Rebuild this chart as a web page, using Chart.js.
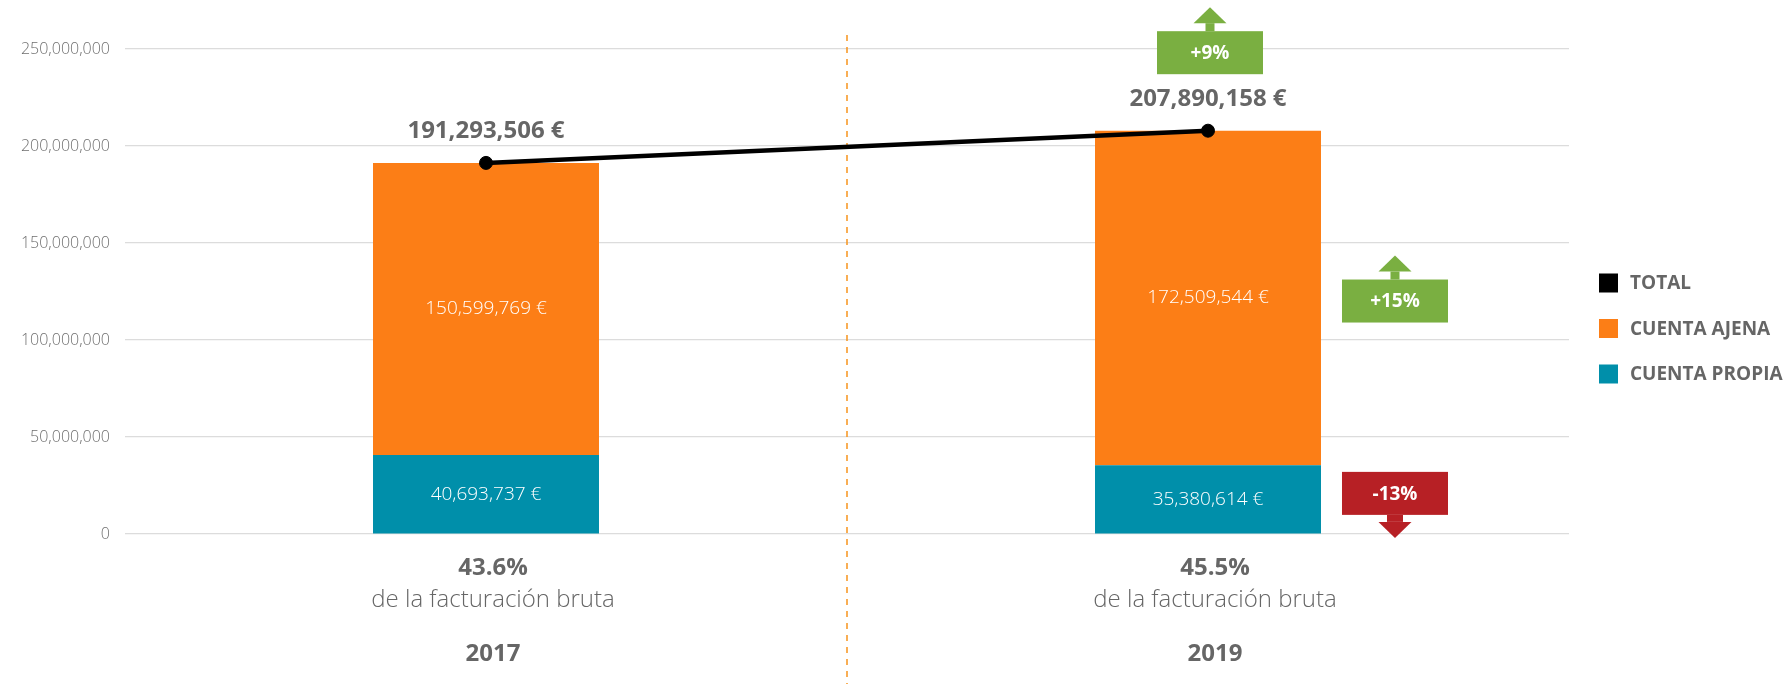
<!DOCTYPE html>
<html>
<head>
<meta charset="utf-8">
<script src="https://cdn.jsdelivr.net/npm/chart.js@4/dist/chart.umd.min.js"></script>
<style>
  html, body { margin: 0; padding: 0; background: #fff; }
  #wrap { position: relative; width: 1789px; height: 684px; }
</style>
</head>
<body>
<div id="wrap"><canvas id="chart"></canvas></div>
<script>
// --- data ---
const categories = ['2017', '2019'];
const cuentaPropia = [40693737, 35380614];
const cuentaAjena = [150599769, 172509544];
const totals = [191293506, 207890158];
const shareOfGross = ['43.6%', '45.5%'];
const shareCaption = 'de la facturación bruta';
const changeTotal = '+9%';
const changeAjena = '+15%';
const changePropia = '-13%';
const yMax = 250000000;
const yStep = 50000000;

const FONT = '"Open Sans", Lato, sans-serif';
const GREY = '#666666';
const ORANGE = '#FC7E16';
const TEAL = '#008FAA';
const GREEN = '#7AAF41';
const RED = '#B72025';

const euro = v => v.toLocaleString('en-US') + ' €';

// box with an arrow on top (up) or below (down)
function arrowBox(ctx, cx, cy, text, color, dir) {
    const w = 106, h = 43;
    const left = cx - w / 2, top = cy - h / 2;
    ctx.fillStyle = color;
    ctx.fillRect(left, top, w, h);
    if (dir === 'up') {
        ctx.fillRect(cx - 4.5, top - 8, 9, 8);
        ctx.beginPath();
        ctx.moveTo(cx - 16.5, top - 8);
        ctx.lineTo(cx + 16.5, top - 8);
        ctx.lineTo(cx, top - 24);
        ctx.closePath();
        ctx.fill();
    } else {
        ctx.fillRect(cx - 8, top + h, 16, 7);
        ctx.beginPath();
        ctx.moveTo(cx - 16.5, top + h + 7);
        ctx.lineTo(cx + 16.5, top + h + 7);
        ctx.lineTo(cx, top + h + 23);
        ctx.closePath();
        ctx.fill();
    }
    ctx.fillStyle = '#fff';
    ctx.font = 'bold 19px ' + FONT;
    ctx.textAlign = 'center';
    ctx.textBaseline = 'middle';
    ctx.fillText(text, cx, cy + 1);
}

const extras = {
    id: 'extras',
    beforeDatasetsDraw(chart) {
        const { ctx, scales: { x } } = chart;
        const mid = (x.getPixelForValue(0) + x.getPixelForValue(1)) / 2;
        ctx.save();
        ctx.strokeStyle = '#F7941D';
        ctx.lineWidth = 1.5;
        ctx.setLineDash([6, 6]);
        ctx.beginPath();
        ctx.moveTo(mid, 35);
        ctx.lineTo(mid, chart.height);
        ctx.stroke();
        ctx.restore();
    },
    afterDatasetsDraw(chart) {
        const { ctx, chartArea } = chart;
        const totalMeta = chart.getDatasetMeta(0);
        const propiaMeta = chart.getDatasetMeta(1);
        const ajenaMeta = chart.getDatasetMeta(2);
        ctx.save();

        // values inside the bars
        ctx.fillStyle = '#fff';
        ctx.font = '300 19px ' + FONT;
        ctx.textAlign = 'center';
        ctx.textBaseline = 'middle';
        [[ajenaMeta, cuentaAjena], [propiaMeta, cuentaPropia]].forEach(([meta, vals]) => {
            meta.data.forEach((bar, i) => {
                ctx.fillText(euro(vals[i]), bar.x, (bar.y + bar.base) / 2);
            });
        });

        // totals above the line points
        ctx.fillStyle = GREY;
        ctx.font = 'bold 24px ' + FONT;
        totalMeta.data.forEach((pt, i) => {
            ctx.fillText(euro(totals[i]), pt.x, pt.y - 32);
        });

        // change boxes
        const a19 = ajenaMeta.data[1];
        const p19 = propiaMeta.data[1];
        const sideX = a19.x + a19.width / 2 + 74;
        arrowBox(ctx, a19.x + 2, totalMeta.data[1].y - 78, changeTotal, GREEN, 'up');
        arrowBox(ctx, sideX, (a19.y + a19.base) / 2 + 3, changeAjena, GREEN, 'up');
        arrowBox(ctx, sideX, (p19.y + p19.base) / 2 - 6, changePropia, RED, 'down');

        // labels under the bars
        ctx.fillStyle = GREY;
        ajenaMeta.data.forEach((bar, i) => {
            const cx = bar.x + 7;
            ctx.font = 'bold 24px ' + FONT;
            ctx.fillText(shareOfGross[i], cx, chartArea.bottom + 34);
            ctx.font = '300 24px ' + FONT;
            ctx.fillText(shareCaption, cx, chartArea.bottom + 66);
            ctx.font = 'bold 24px ' + FONT;
            ctx.fillText(categories[i], cx, chartArea.bottom + 120);
        });

        // legend: total, ajena, propia
        const lx = chartArea.right + 30;
        const items = [0, 2, 1].map(i => chart.data.datasets[i]);
        ctx.textAlign = 'left';
        ctx.font = 'bold 19px ' + FONT;
        items.forEach((ds, i) => {
            const cy = 283 + i * 45.5;
            ctx.fillStyle = ds.legendColor;
            ctx.fillRect(lx, cy - 9.5, 19, 19);
            ctx.fillStyle = GREY;
            ctx.fillText(ds.label, lx + 31, cy + 1);
        });
        ctx.restore();
    }
};

new Chart(document.getElementById('chart'), {
    data: {
        labels: categories,
        datasets: [
            {
                type: 'line',
                label: 'TOTAL',
                data: totals,
                stack: 'total',
                order: 0,
                borderColor: '#000',
                backgroundColor: '#000',
                legendColor: '#000',
                borderWidth: 4.5,
                pointRadius: 6.5,
                pointBorderWidth: 1,
                pointBackgroundColor: '#000',
                tension: 0
            },
            {
                type: 'bar',
                label: 'CUENTA PROPIA',
                data: cuentaPropia,
                stack: 'bars',
                order: 1,
                backgroundColor: TEAL,
                legendColor: TEAL
            },
            {
                type: 'bar',
                label: 'CUENTA AJENA',
                data: cuentaAjena,
                stack: 'bars',
                order: 1,
                backgroundColor: ORANGE,
                legendColor: ORANGE
            }
        ]
    },
    options: {
        responsive: true,
        maintainAspectRatio: false,
        animation: false,
        layout: { padding: { top: 49, right: 220, bottom: 150, left: 0 } },
        datasets: {
            bar: { categoryPercentage: 1, barPercentage: 0.313 }
        },
        plugins: {
            legend: { display: false },
            tooltip: { enabled: false }
        },
        scales: {
            x: {
                display: false,
                stacked: true
            },
            y: {
                stacked: true,
                min: 0,
                max: yMax,
                border: { display: false },
                grid: { color: '#DCDCDC', lineWidth: 1.2, drawTicks: false },
                ticks: {
                    stepSize: yStep,
                    padding: 15,
                    color: '#6F6F6F',
                    font: { family: FONT, size: 16, weight: '300' },
                    callback: v => v.toLocaleString('en-US')
                },
                afterFit: axis => { axis.width = 125; }
            }
        }
    },
    plugins: [extras]
});
</script>
</body>
</html>
